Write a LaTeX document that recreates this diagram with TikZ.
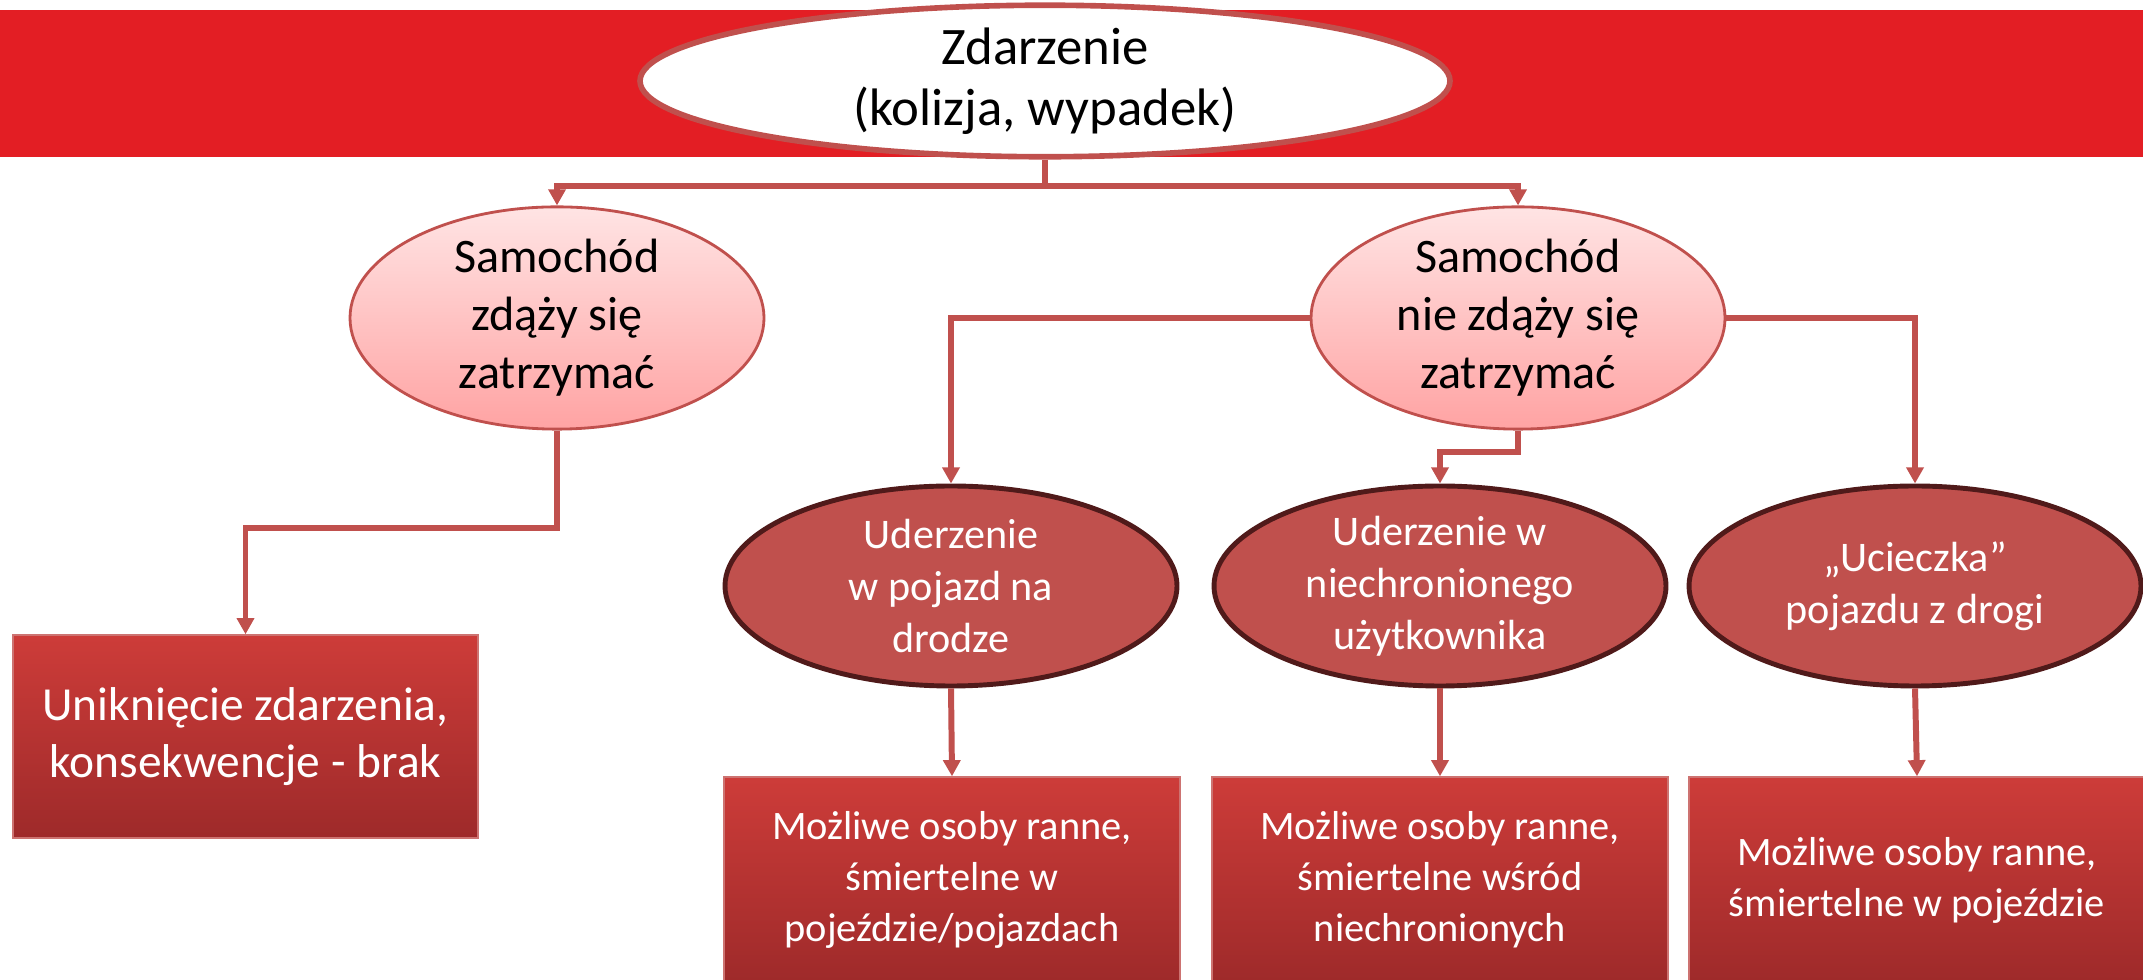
\documentclass[tikz,border=0pt]{standalone}
\usepackage{fontspec}
\setmainfont{Carlito}
\usetikzlibrary{shapes.geometric}
\usetikzlibrary{arrows.meta}
\definecolor{bandred}{RGB}{227,30,36}
\definecolor{accred}{RGB}{192,80,77}
\definecolor{darkrim}{RGB}{80,26,26}
\definecolor{pinktop}{RGB}{255,228,228}
\definecolor{pinkbot}{RGB}{255,163,163}
\definecolor{boxtop}{RGB}{205,60,57}
\definecolor{boxbot}{RGB}{158,42,42}

\begin{document}
\begin{tikzpicture}[
  conn/.style={draw=accred,line width=1.7pt},
  arr/.style={conn,-{Triangle[width=4.8pt,length=4.6pt]}},
  mainev/.style={ellipse,draw=accred,line width=1.6pt,fill=white,align=center,inner sep=0pt,minimum width=8.1cm,minimum height=1.44cm,font={\fontsize{15}{17.5}\selectfont}},
  stopev/.style={ellipse,draw=accred,line width=0.8pt,top color=pinktop,bottom color=pinkbot,align=center,inner sep=0pt,minimum width=4.14cm,minimum height=1.98cm,font={\fontsize{13.7}{16.5}\selectfont}},
  hitev/.style={ellipse,draw=darkrim,line width=1.4pt,fill=accred,text=white,align=center,inner sep=0pt,minimum width=4.52cm,minimum height=2.0cm,font={\fontsize{12}{14.8}\selectfont}},
  resbox/.style={rectangle,draw=accred!80!white,line width=0.4pt,top color=boxtop,bottom color=boxbot,text=white,align=center,inner sep=0pt,minimum width=4.56cm,minimum height=2.06cm,font={\fontsize{11.5}{14.5}\selectfont}}
]
\useasboundingbox (0,0) rectangle (21.43,9.79);
\fill[bandred] (0,8.22) rectangle (21.43,9.69);

\node[mainev] (event) at (10.45,8.98) {Zdarzenie\\(kolizja, wypadek)};
\node[stopev] (stopok) at (5.57,6.61) {Samochód\\zdąży się\\zatrzymać};
\node[stopev] (stopno) at (15.18,6.61) {Samochód\\nie zdąży się\\zatrzymać};

\node[resbox,minimum width=4.65cm,minimum height=2.03cm,font={\fontsize{13.5}{16.2}\selectfont}] (avoid) at (2.455,2.425) {Uniknięcie zdarzenia,\\konsekwencje - brak};

\node[hitev] (hitcar) at (9.51,3.93) {Uderzenie\\w pojazd na\\drodze};
\node[hitev] (hitped) at (14.40,3.93) {Uderzenie w\\niechronionego\\użytkownika};
\node[hitev] (runoff) at (19.15,3.93) {„Ucieczka”\\pojazdu z drogi};

\node[resbox] (rescar) at (9.52,0.99) {Możliwe osoby ranne,\\śmiertelne w\\pojeździe/pojazdach};
\node[resbox] (resped) at (14.40,0.99) {Możliwe osoby ranne,\\śmiertelne wśród\\niechronionych};
\node[resbox] (resrun) at (19.17,0.99) {Możliwe osoby ranne,\\śmiertelne w pojeździe};

\coordinate (split) at (10.45,7.93);
\draw[conn] (event.south) -- (split);
\draw[arr] (split) -| (stopok.north);
\draw[arr] (split) -| (stopno.north);

\coordinate (kneeok) at (5.57,4.51);
\draw[arr] (stopok.south) -- (kneeok) -| (avoid.north);

\coordinate (kneeno) at (15.18,5.27);
\draw[arr] (stopno.west) -| (hitcar.north);
\draw[arr] (stopno.south) -- (kneeno) -| (hitped.north);
\draw[arr] (stopno.east) -| (runoff.north);

\draw[arr] (hitcar.south) -- (rescar.north);
\draw[arr] (hitped.south) -- (resped.north);
\draw[arr] (runoff.south) -- (resrun.north);

\end{tikzpicture}
\end{document}
